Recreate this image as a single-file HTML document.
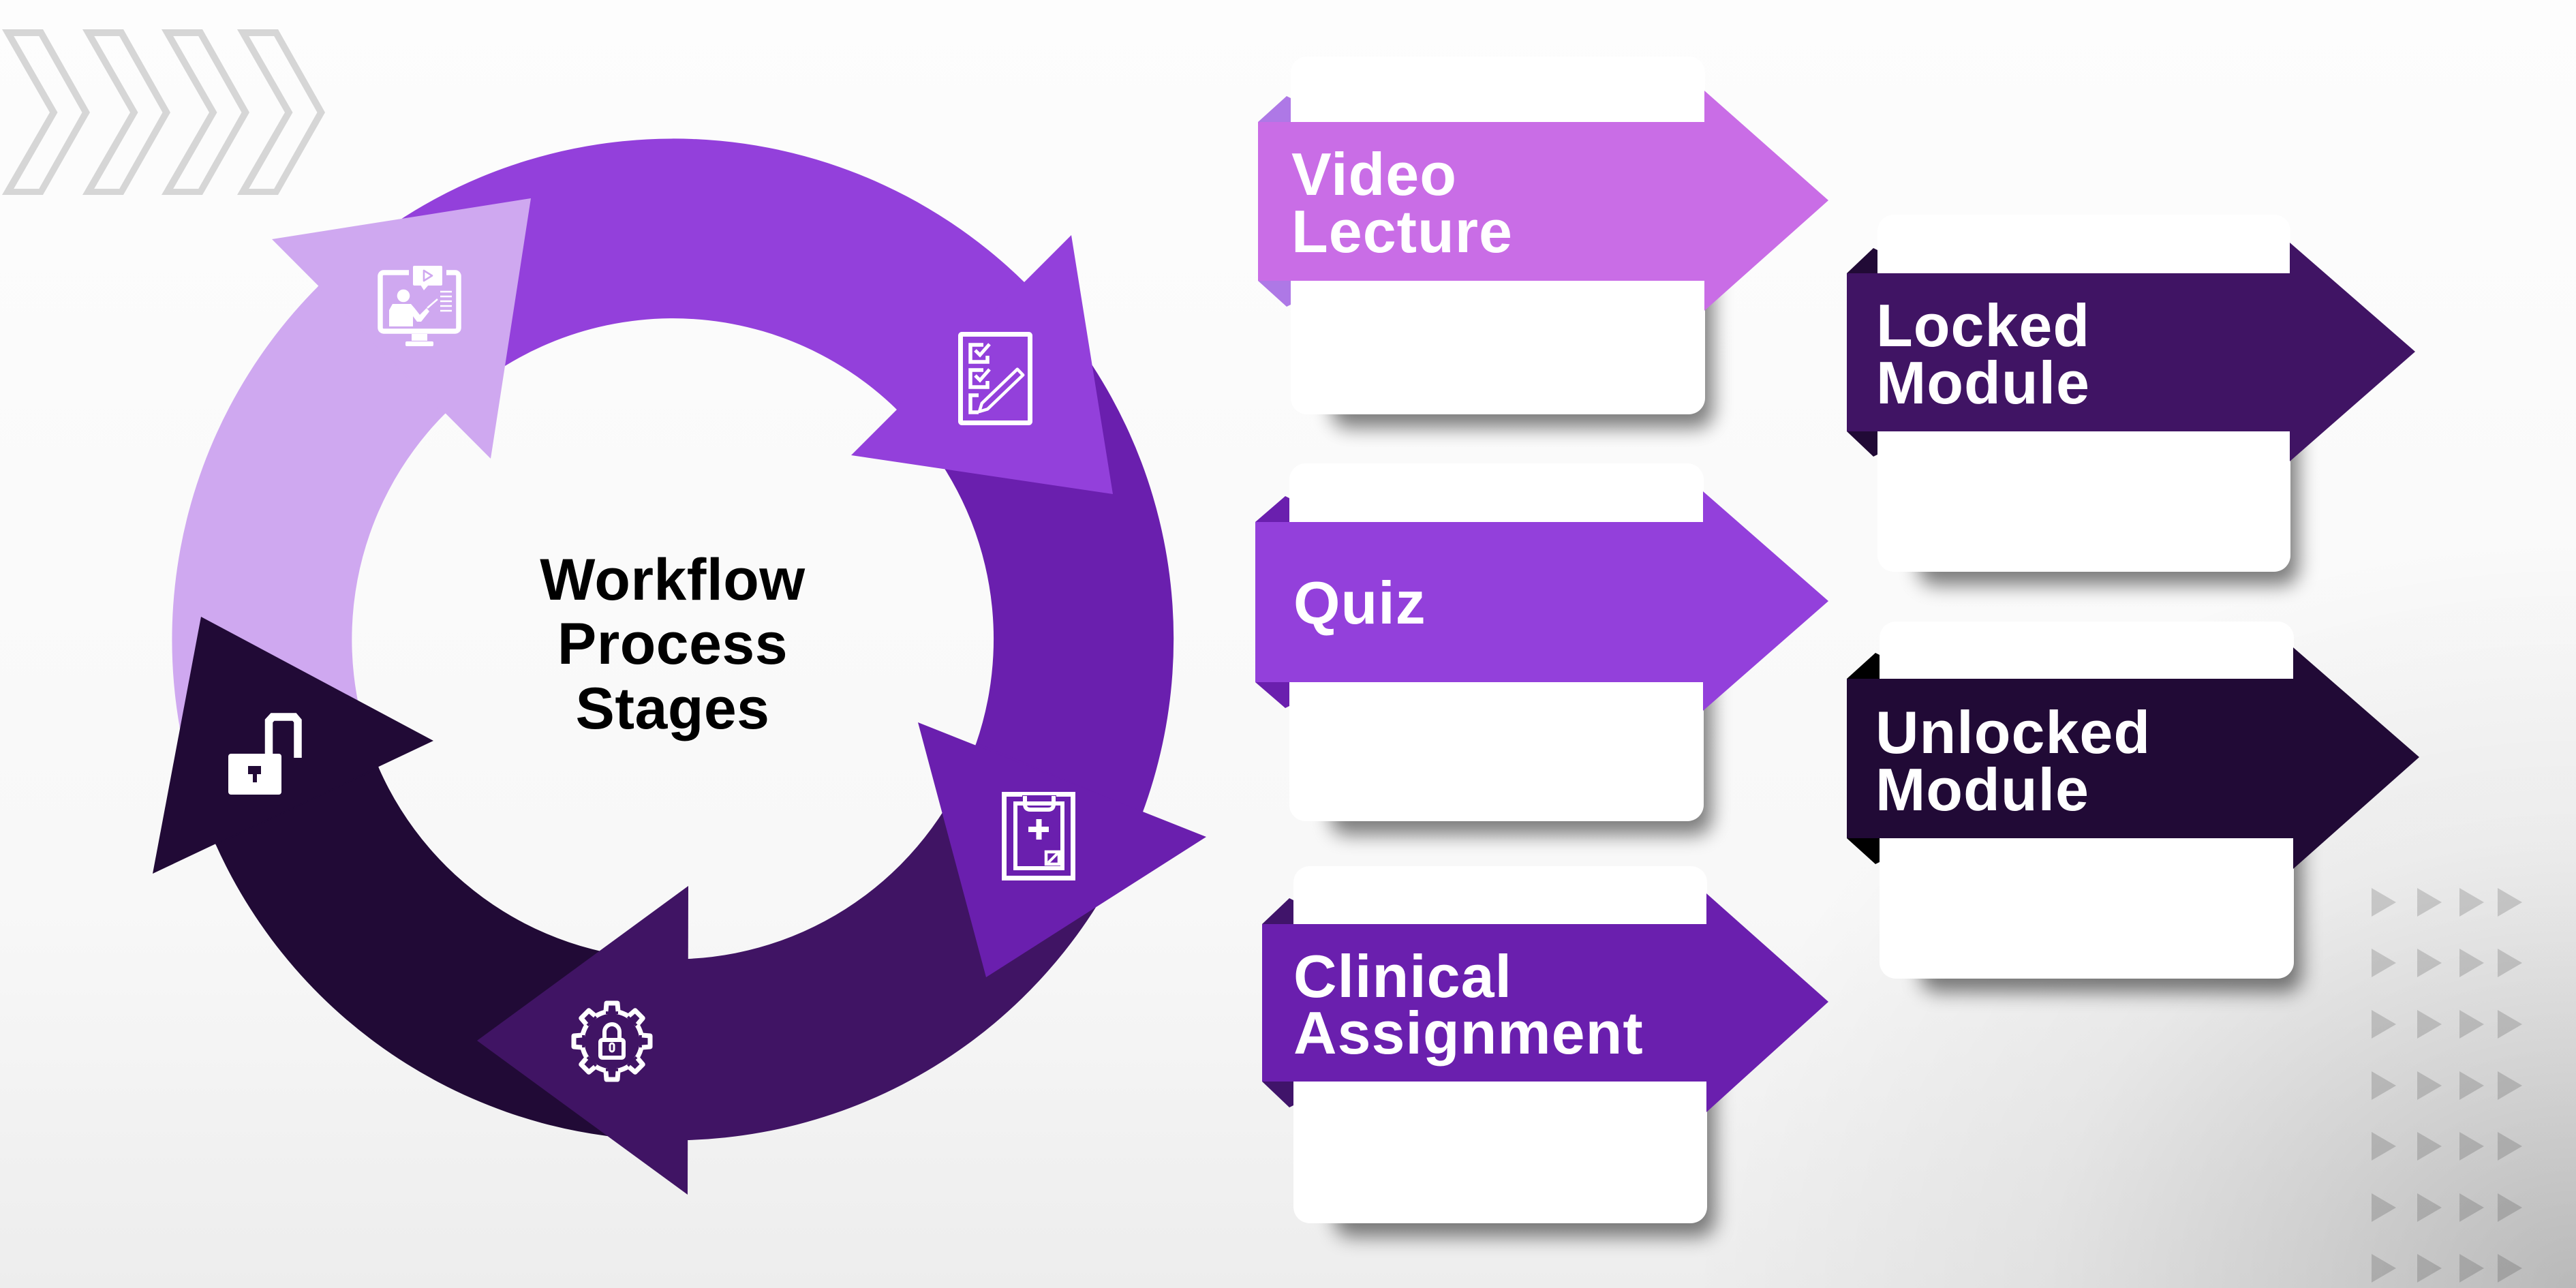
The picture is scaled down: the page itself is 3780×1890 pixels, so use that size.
<!DOCTYPE html>
<html>
<head>
<meta charset="utf-8">
<style>
html,body{margin:0;padding:0;width:3780px;height:1890px;overflow:hidden;background:#fafafa}
svg{display:block}
text{font-family:"Liberation Sans",Arial,sans-serif;font-weight:bold}
</style>
</head>
<body>
<svg width="3780" height="1890" viewBox="0 0 3780 1890" xmlns="http://www.w3.org/2000/svg">
<defs>
  <linearGradient id="bgl" x1="0" y1="0" x2="0" y2="1">
    <stop offset="0" stop-color="#fdfdfd"/>
    <stop offset="0.7" stop-color="#f8f8f8"/>
    <stop offset="1" stop-color="#ededed"/>
  </linearGradient>
  <radialGradient id="bgr" cx="3780" cy="1890" r="1300" gradientUnits="userSpaceOnUse" gradientTransform="translate(3780 1890) scale(1 0.85) translate(-3780 -1890)">
    <stop offset="0" stop-color="#000" stop-opacity="0.22"/>
    <stop offset="0.3" stop-color="#000" stop-opacity="0.13"/>
    <stop offset="0.6" stop-color="#000" stop-opacity="0.05"/>
    <stop offset="1" stop-color="#000" stop-opacity="0"/>
  </radialGradient>
  <filter id="sh" x="-15%" y="-15%" width="130%" height="140%">
    <feGaussianBlur stdDeviation="14"/>
  </filter>
  <polygon id="tr" points="0,-21 36,0 0,21"/>
  <path id="chev" fill-rule="evenodd" d="M3,43 L63,43 L132,165 L63,286 L3,286 L73,165 Z M20.2,53 L84.5,165 L20.2,277 L57.2,277 L120.5,165 L57.2,53 Z"/>
</defs>

<!-- background -->
<rect x="0" y="0" width="3780" height="1890" fill="url(#bgl)"/>
<rect x="0" y="0" width="3780" height="1890" fill="url(#bgr)"/>

<!-- chevrons top-left -->
<g fill="#d6d6d6">
  <use href="#chev" x="0" y="0"/>
  <use href="#chev" x="118" y="0"/>
  <use href="#chev" x="234" y="0"/>
  <use href="#chev" x="345" y="0"/>
</g>

<!-- triangle pattern bottom-right -->
<g fill="#000" fill-opacity="0.15">
  <use href="#tr" x="3480" y="1324"/><use href="#tr" x="3547" y="1324"/><use href="#tr" x="3609" y="1324"/><use href="#tr" x="3665" y="1324"/>
  <use href="#tr" x="3480" y="1413"/><use href="#tr" x="3547" y="1413"/><use href="#tr" x="3609" y="1413"/><use href="#tr" x="3665" y="1413"/>
  <use href="#tr" x="3480" y="1503"/><use href="#tr" x="3547" y="1503"/><use href="#tr" x="3609" y="1503"/><use href="#tr" x="3665" y="1503"/>
  <use href="#tr" x="3480" y="1593"/><use href="#tr" x="3547" y="1593"/><use href="#tr" x="3609" y="1593"/><use href="#tr" x="3665" y="1593"/>
  <use href="#tr" x="3480" y="1682"/><use href="#tr" x="3547" y="1682"/><use href="#tr" x="3609" y="1682"/><use href="#tr" x="3665" y="1682"/>
  <use href="#tr" x="3480" y="1772"/><use href="#tr" x="3547" y="1772"/><use href="#tr" x="3609" y="1772"/><use href="#tr" x="3665" y="1772"/>
  <use href="#tr" x="3480" y="1861"/><use href="#tr" x="3547" y="1861"/><use href="#tr" x="3609" y="1861"/><use href="#tr" x="3665" y="1861"/>
</g>

<!-- ring bands -->
<path d="M316,1238 A735,735 0 0 1 468,419 L653,607 A470,470 0 0 0 555,1125 Z" fill="#cfa8f0"/>
<path d="M468,419 A735,735 0 0 1 1504,415 L1316,601 A470,470 0 0 0 653,607 Z" fill="#9340db"/>
<path d="M1504,415 A735,735 0 0 1 1676,1194 L1432,1092 A470,470 0 0 0 1316,601 Z" fill="#6a1fae"/>
<path d="M1676,1194 A735,735 0 0 1 1010,1673 L1010,1407 A470,470 0 0 0 1432,1092 Z" fill="#401464"/>
<path d="M1010,1673 A735,735 0 0 1 316,1238 L555,1125 A470,470 0 0 0 1010,1407 Z" fill="#210a36"/>

<!-- seam covers along arrowhead bases -->
<g stroke-width="5" stroke-linecap="butt">
  <line x1="468" y1="419" x2="653" y2="607" stroke="#cfa8f0"/>
  <line x1="1504" y1="415" x2="1316" y2="601" stroke="#9340db"/>
  <line x1="1676" y1="1194" x2="1432" y2="1092" stroke="#6a1fae"/>
  <line x1="1010" y1="1673" x2="1010" y2="1407" stroke="#401464"/>
  <line x1="316" y1="1238" x2="555" y2="1125" stroke="#210a36"/>
</g>

<!-- arrowheads -->
<polygon points="399,351 779,291 720,673" fill="#cfa8f0"/>
<polygon points="1572,345 1633,725 1249,668" fill="#9340db"/>
<polygon points="1770,1228 1447,1434 1347,1060" fill="#6a1fae"/>
<polygon points="1009,1753 700,1527 1010,1300" fill="#401464"/>
<polygon points="224,1282 295,905 636,1087" fill="#210a36"/>

<!-- icon: monitor / video lecture -->
<g>
  <rect x="558" y="400" width="115" height="86" rx="5" fill="none" stroke="#fff" stroke-width="7.5"/>
  <rect x="600" y="386" width="55" height="20" fill="#cfa8f0"/>
  <rect x="606" y="390" width="43" height="29" rx="2" fill="#fff"/>
  <polygon points="617,418 629,418 622,426" fill="#fff"/>
  <path d="M622,397 L622,412 L634,404.5 Z" fill="none" stroke="#cfa8f0" stroke-width="2.6" stroke-linejoin="round"/>
  <rect x="604" y="490" width="23" height="10" fill="#fff"/>
  <rect x="595" y="501" width="41" height="7" rx="2" fill="#fff"/>
  <circle cx="592" cy="434" r="9.3" fill="#fff"/>
  <polygon points="571,479 571,455 576,446 603,446 609,453 616,462 626,452 630,457 618,472 612,472 606,464 606,479" fill="#fff"/>
  <line x1="627" y1="452" x2="642" y2="439" stroke="#fff" stroke-width="2.6"/>
  <g stroke="#fff" stroke-width="2.6">
    <line x1="646" y1="428" x2="663" y2="428"/>
    <line x1="646" y1="435" x2="663" y2="435"/>
    <line x1="646" y1="442" x2="663" y2="442"/>
    <line x1="646" y1="449" x2="663" y2="449"/>
    <line x1="646" y1="456" x2="663" y2="456"/>
  </g>
</g>

<!-- icon: checklist / quiz -->
<g fill="none" stroke="#fff">
  <rect x="1409.5" y="490.5" width="102" height="130" rx="2" stroke-width="7"/>
  <path d="M1443,506 H1424 V531 H1449 V522" stroke-width="5.5"/>
  <path d="M1431,514 L1438,521 L1452,505" stroke-width="5"/>
  <path d="M1443,543 H1424 V568 H1449 V559" stroke-width="5.5"/>
  <path d="M1431,551 L1438,558 L1452,542" stroke-width="5"/>
  <path d="M1436,580 H1424 V605 H1436" stroke-width="5.5"/>
  <polygon points="1437,604 1440.8,591.7 1492.8,541.7 1501.2,550.3 1449.2,600.3" stroke-width="4.5" stroke-linejoin="round"/>
</g>

<!-- icon: clipboard / clinical -->
<g fill="none" stroke="#fff">
  <rect x="1473.5" y="1165.5" width="101" height="123" stroke-width="7"/>
  <rect x="1490" y="1179" width="69" height="95" stroke-width="6"/>
  <rect x="1500" y="1167" width="50" height="9" fill="#6a1fae" stroke="none"/>
  <path d="M1504,1168 V1180 Q1504,1188 1512,1188 H1538 Q1546,1188 1546,1180 V1168" stroke-width="6"/>
  <rect x="1535" y="1250" width="19" height="18" stroke-width="4.5"/>
  <line x1="1538" y1="1266" x2="1552" y2="1252" stroke-width="4"/>
</g>
<rect x="1509" y="1213" width="30" height="8" fill="#fff"/>
<rect x="1520.5" y="1202" width="8" height="30" fill="#fff"/>

<!-- icon: gear lock -->
<g transform="translate(898,1528)">
  <circle r="44" fill="none" stroke="#fff" stroke-width="7"/>
  <g>
    <rect x="-9" y="-50" width="18" height="10" fill="#401464"/>
    <path d="M-9,-44 L-8,-56 H8 L9,-44" fill="none" stroke="#fff" stroke-width="7" stroke-linejoin="round"/>
  </g>
  <g transform="rotate(45)">
    <rect x="-9" y="-50" width="18" height="10" fill="#401464"/>
    <path d="M-9,-44 L-8,-56 H8 L9,-44" fill="none" stroke="#fff" stroke-width="7" stroke-linejoin="round"/>
  </g>
  <g transform="rotate(90)">
    <rect x="-9" y="-50" width="18" height="10" fill="#401464"/>
    <path d="M-9,-44 L-8,-56 H8 L9,-44" fill="none" stroke="#fff" stroke-width="7" stroke-linejoin="round"/>
  </g>
  <g transform="rotate(135)">
    <rect x="-9" y="-50" width="18" height="10" fill="#401464"/>
    <path d="M-9,-44 L-8,-56 H8 L9,-44" fill="none" stroke="#fff" stroke-width="7" stroke-linejoin="round"/>
  </g>
  <g transform="rotate(180)">
    <rect x="-9" y="-50" width="18" height="10" fill="#401464"/>
    <path d="M-9,-44 L-8,-56 H8 L9,-44" fill="none" stroke="#fff" stroke-width="7" stroke-linejoin="round"/>
  </g>
  <g transform="rotate(225)">
    <rect x="-9" y="-50" width="18" height="10" fill="#401464"/>
    <path d="M-9,-44 L-8,-56 H8 L9,-44" fill="none" stroke="#fff" stroke-width="7" stroke-linejoin="round"/>
  </g>
  <g transform="rotate(270)">
    <rect x="-9" y="-50" width="18" height="10" fill="#401464"/>
    <path d="M-9,-44 L-8,-56 H8 L9,-44" fill="none" stroke="#fff" stroke-width="7" stroke-linejoin="round"/>
  </g>
  <g transform="rotate(315)">
    <rect x="-9" y="-50" width="18" height="10" fill="#401464"/>
    <path d="M-9,-44 L-8,-56 H8 L9,-44" fill="none" stroke="#fff" stroke-width="7" stroke-linejoin="round"/>
  </g>
  <rect x="-17" y="-2" width="34" height="26" rx="3" fill="none" stroke="#fff" stroke-width="6"/>
  <path d="M-11,-2 V-14 A11,11 0 0 1 11,-14 V-2" fill="none" stroke="#fff" stroke-width="6"/>
  <rect x="-3" y="3" width="6" height="12" rx="3" fill="none" stroke="#fff" stroke-width="3"/>
</g>

<!-- icon: unlocked padlock -->
<g>
  <path d="M394.5,1108 V1058 L400,1052 H432 L437,1058 V1112" fill="none" stroke="#fff" stroke-width="11.5"/>
  <rect x="335" y="1106" width="78" height="60" rx="4" fill="#fff"/>
  <rect x="364" y="1124" width="19" height="12" fill="#210a36"/>
  <rect x="371" y="1134" width="6" height="14" fill="#210a36"/>
</g>

<!-- center text -->
<g fill="#000" font-size="86" text-anchor="middle" letter-spacing="0.5">
  <text x="987" y="880">Workflow</text>
  <text x="987" y="974">Process</text>
  <text x="987" y="1069">Stages</text>
</g>

<!-- ===== Cards ===== -->
<g font-size="88" fill="#fff" letter-spacing="1">

<!-- Video Lecture -->
<rect x="1954" y="213" width="560" height="415" rx="24" fill="#000" opacity="0.5" filter="url(#sh)"/>
<rect x="1894" y="83" width="608" height="525" rx="24" fill="#fff"/>
<rect x="1846" y="179" width="656" height="233" fill="#c96de6"/>
<polygon points="2501,133 2683,294 2501,456" fill="#c96de6"/>
<polygon points="1846,179 1888,141 1894,144 1894,179" fill="#ae78e6"/>
<polygon points="1846,412 1888,450 1894,447 1894,412" fill="#ae78e6"/>
<text x="1895" y="286">Video</text>
<text x="1895" y="370">Lecture</text>

<!-- Quiz -->
<rect x="1952" y="810" width="560" height="415" rx="24" fill="#000" opacity="0.5" filter="url(#sh)"/>
<rect x="1892" y="680" width="608" height="525" rx="24" fill="#fff"/>
<rect x="1842" y="766" width="658" height="235" fill="#9340db"/>
<polygon points="2499,721 2683,882 2499,1043" fill="#9340db"/>
<polygon points="1842,766 1886,728 1892,731 1892,766" fill="#6a1fae"/>
<polygon points="1842,1001 1886,1039 1892,1036 1892,1001" fill="#6a1fae"/>
<text x="1898" y="915">Quiz</text>

<!-- Clinical Assignment -->
<rect x="1958" y="1401" width="559" height="414" rx="24" fill="#000" opacity="0.5" filter="url(#sh)"/>
<rect x="1898" y="1271" width="607" height="524" rx="24" fill="#fff"/>
<rect x="1852" y="1356" width="653" height="231" fill="#6a1fae"/>
<polygon points="2504,1311 2683,1470 2504,1632" fill="#6a1fae"/>
<polygon points="1852,1356 1892,1318 1898,1321 1898,1356" fill="#40146a"/>
<polygon points="1852,1587 1892,1625 1898,1622 1898,1587" fill="#40146a"/>
<text x="1898" y="1463">Clinical</text>
<text x="1898" y="1546">Assignment</text>

<!-- Locked Module -->
<rect x="2815" y="445" width="558" height="414" rx="24" fill="#000" opacity="0.5" filter="url(#sh)"/>
<rect x="2755" y="315" width="606" height="524" rx="24" fill="#fff"/>
<rect x="2710" y="401" width="651" height="232" fill="#401464"/>
<polygon points="3360,356 3544,516 3360,677" fill="#401464"/>
<polygon points="2710,401 2749,364 2755,367 2755,401" fill="#210a36"/>
<polygon points="2710,633 2749,670 2755,667 2755,633" fill="#210a36"/>
<text x="2753" y="508">Locked</text>
<text x="2753" y="592">Module</text>

<!-- Unlocked Module -->
<rect x="2818" y="1042" width="560" height="414" rx="24" fill="#000" opacity="0.5" filter="url(#sh)"/>
<rect x="2758" y="912" width="608" height="524" rx="24" fill="#fff"/>
<rect x="2710" y="996" width="656" height="234" fill="#210a36"/>
<polygon points="3365,950 3550,1111 3365,1275" fill="#210a36"/>
<polygon points="2710,996 2752,958 2758,961 2758,996" fill="#000"/>
<polygon points="2710,1230 2752,1268 2758,1265 2758,1230" fill="#000"/>
<text x="2752" y="1105">Unlocked</text>
<text x="2752" y="1189">Module</text>

</g>
</svg>
</body>
</html>
